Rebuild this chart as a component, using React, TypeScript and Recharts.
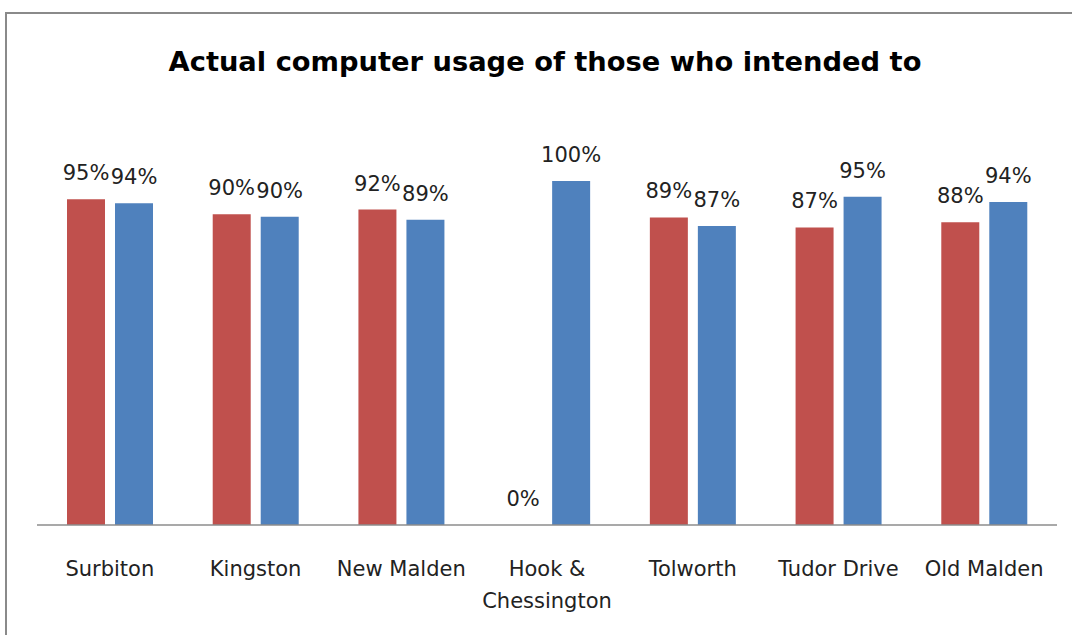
import React from "react";
import { BarChart, Bar, XAxis, YAxis, LabelList } from "recharts";

const categories = ["Surbiton", "Kingston", "New Malden", "Hook & Chessington", "Tolworth", "Tudor Drive", "Old Malden"];
const redValues = [0.947, 0.903, 0.917, 0, 0.894, 0.865, 0.88];
const blueValues = [0.935, 0.896, 0.887, 1.0, 0.869, 0.954, 0.939];
const tickLines: Record<string, string[]> = {
  "Hook & Chessington": ["Hook &", "Chessington"],
};

const data = categories.map((c, i) => ({ name: c, red: redValues[i], blue: blueValues[i] }));

const FONT = "'DejaVu Sans', sans-serif";

const fmt = (v: any) => `${Math.round(Number(v) * 100)}%`;

const ValueLabel = (props: any) => {
  const { x, y, width, height, value } = props;
  if (value == null) return null;
  const top = Math.min(Number(y), Number(y) + Number(height || 0));
  return (
    <text x={Number(x) + Number(width) / 2} y={top - 19} textAnchor="middle" fontFamily={FONT} fontSize={21} fill="#222">
      {fmt(value)}
    </text>
  );
};

const CatTick = (props: any) => {
  const { x, y, payload } = props;
  const lines = tickLines[payload.value] || [payload.value];
  return (
    <text x={x} y={y} textAnchor="middle" fontFamily={FONT} fontSize={21} fill="#222">
      {lines.map((l: string, i: number) => (
        <tspan key={i} x={x} dy={i === 0 ? 43 : 32}>{l}</tspan>
      ))}
    </text>
  );
};

export default function App() {
  return (
    <div style={{ position: "absolute", left: 0, top: 0, width: 1072, height: 635, background: "#fff", overflow: "hidden" }}>
      <div style={{ position: "absolute", left: 5, top: 12, width: 1100, height: 700, border: "2px solid #8a8a8a", boxSizing: "border-box" }} />
      <div style={{ position: "absolute", left: 0, top: 0 }}>
        <BarChart width={1072} height={635} data={data} margin={{ top: 181, right: 15, bottom: 80, left: 37 }} barSize={38} barGap={10}>
          <text x={545} y={71} textAnchor="middle" fontFamily={FONT} fontWeight="bold" fontSize={27.3} fill="#000">
            Actual computer usage of those who intended to
          </text>
          <XAxis dataKey="name" tickLine={false} axisLine={{ stroke: "#8c8c8c", strokeWidth: 1.5 }} tick={<CatTick />} interval={0} height={30} />
          <YAxis hide domain={[0, 1]} width={0} />
          <Bar dataKey="red" fill="#C0504D" isAnimationActive={false} minPointSize={0.01}>
            <LabelList dataKey="red" content={<ValueLabel />} />
          </Bar>
          <Bar dataKey="blue" fill="#4F81BD" isAnimationActive={false}>
            <LabelList dataKey="blue" content={<ValueLabel />} />
          </Bar>
        </BarChart>
      </div>
    </div>
  );
}
